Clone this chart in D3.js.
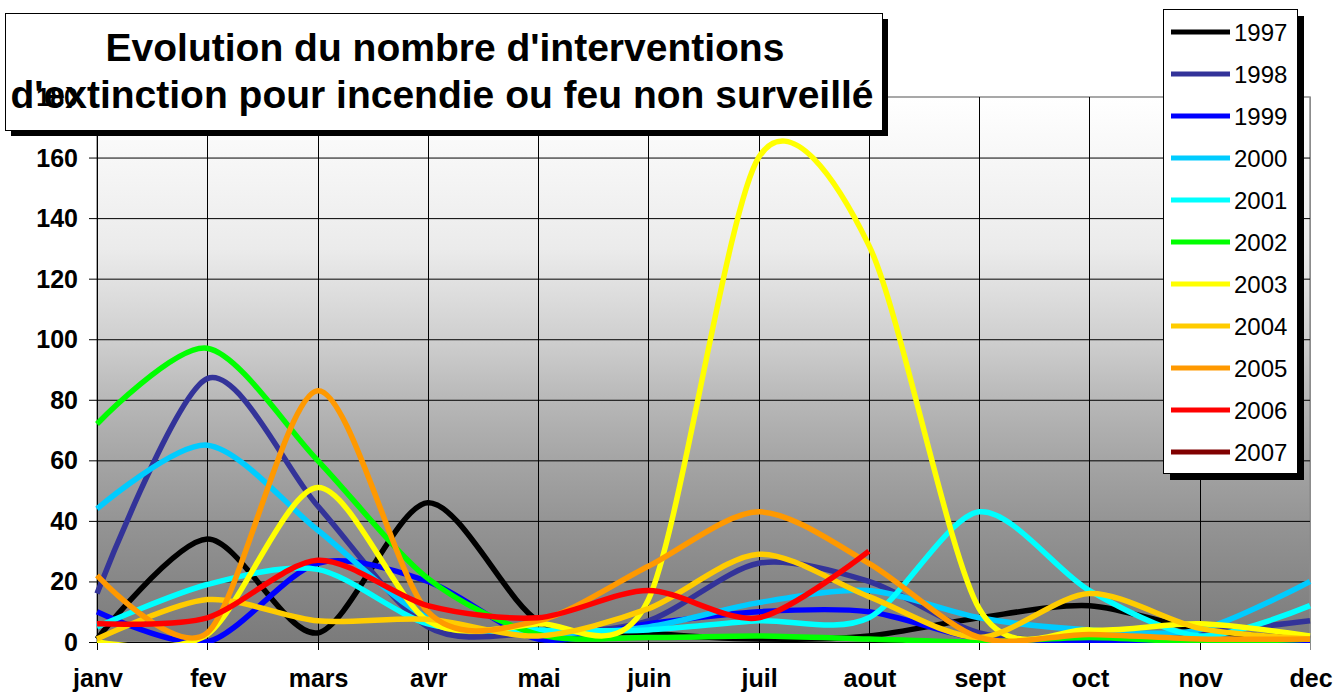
<!DOCTYPE html>
<html>
<head>
<meta charset="utf-8">
<script src="https://cdn.jsdelivr.net/npm/d3@7"></script>
<style>
  body { margin: 0; background: #fff; }
  text { font-family: "Liberation Sans", Arial, sans-serif; }
</style>
</head>
<body>
<div id="chart"></div>
<script>
const width = 1337;
const height = 693;

const months = ["janv", "fev", "mars", "avr", "mai", "juin", "juil", "aout", "sept", "oct", "nov", "dec"];
const yTicks = [0, 20, 40, 60, 80, 100, 120, 140, 160, 180];
const years = ["1997", "1998", "1999", "2000", "2001", "2002", "2003", "2004", "2005", "2006", "2007"];
const colors = ["#000000", "#333399", "#0000ff", "#00ccff", "#00ffff", "#00ff00", "#ffff00", "#ffcc00", "#ff9900", "#ff0000", "#800000"];

// one array per year, janv -> dec
const v1997 = [1, 34, 3, 46, 7, 3, 1, 2, 8, 12, 4, 1];
const v1998 = [16, 87, 45, 5, 3, 7, 26, 20, 3, 1, 3, 7];
const v1999 = [10, 0, 26, 20, 1, 6, 10, 10, 1, 0, 0, 0];
const v2000 = [44, 65, 37, 8, 3, 5, 13, 17, 8, 4, 4, 20];
const v2001 = [5, 19, 24, 6, 4, 4, 7, 8, 43, 17, 2, 12];
const v2002 = [72, 97, 60, 21, 2.5, 1.5, 2, 1, 0, 1.5, 0, 1];
const v2003 = [0, 2.5, 51, 7, 6, 14, 160, 131, 11, 4, 6, 2];
const v2004 = [1, 14, 7, 7.5, 2, 11, 29, 15, 1.5, 16, 4.5, 1];
const v2005 = [22, 3, 83, 10, 7, 25, 43, 26, 1.5, 2.5, 1, 1];
const v2006 = [6, 8, 27, 12, 8, 17, 8, 30];
const v2007 = [];

const allValues = [v1997, v1998, v1999, v2000, v2001, v2002, v2003, v2004, v2005, v2006, v2007];
const series = years.map((y, i) => ({ year: y, color: colors[i], values: allValues[i] }));

const plot = { left: 97, right: 1310, top: 97, bottom: 642 };

const svg = d3
  .select("#chart")
  .append("svg")
  .attr("width", width)
  .attr("height", height);

const xScale = d3.scalePoint().domain(months).range([plot.left, plot.right]);
const yScale = d3.scaleLinear().domain([0, 180]).range([plot.bottom, plot.top]);

// background gradient of the plot area
const grad = svg.append("defs")
  .append("linearGradient")
  .attr("id", "bg")
  .attr("x1", 0).attr("y1", 0).attr("x2", 0).attr("y2", 1);
[[0, "#ffffff"], [0.28, "#ebebeb"], [0.445, "#cfcfcf"], [0.555, "#b8b8b8"],
 [0.665, "#a5a5a5"], [0.774, "#959595"], [0.88, "#888888"], [1, "#7b7b7b"]]
  .forEach(s => grad.append("stop").attr("offset", s[0]).attr("stop-color", s[1]));

svg.append("rect")
  .attr("x", plot.left)
  .attr("y", plot.top)
  .attr("width", plot.right - plot.left)
  .attr("height", plot.bottom - plot.top)
  .attr("fill", "url(#bg)")
  .attr("stroke", "#8c8c8c")
  .attr("stroke-width", 1.5);

svg.append("clipPath")
  .attr("id", "clip")
  .append("rect")
  .attr("x", plot.left - 3)
  .attr("y", plot.top)
  .attr("width", plot.right - plot.left + 6)
  .attr("height", plot.bottom - plot.top + 1);

// horizontal grid + y ticks
svg.append("g")
  .selectAll("line")
  .data(yTicks.filter(d => d < 180))
  .enter()
  .append("line")
  .attr("x1", plot.left - 8)
  .attr("x2", plot.right)
  .attr("y1", d => yScale(d) + 0.5)
  .attr("y2", d => yScale(d) + 0.5)
  .attr("stroke", "#000")
  .attr("stroke-width", 1);

// vertical grid + x ticks
svg.append("g")
  .selectAll("line")
  .data(months)
  .enter()
  .append("line")
  .attr("x1", d => Math.round(xScale(d)) + 0.5)
  .attr("x2", d => Math.round(xScale(d)) + 0.5)
  .attr("y1", plot.top)
  .attr("y2", plot.bottom + 8)
  .attr("stroke", (d, i) => i == months.length - 1 ? "#8c8c8c" : "#000")
  .attr("stroke-width", 1);

svg.append("line")
  .attr("x1", plot.left)
  .attr("x2", plot.right)
  .attr("y1", plot.bottom + 0.5)
  .attr("y2", plot.bottom + 0.5)
  .attr("stroke", "#000");

// x labels
svg.append("g")
  .selectAll("text")
  .data(months)
  .enter()
  .append("text")
  .attr("x", d => xScale(d) + 1)
  .attr("y", 687)
  .attr("text-anchor", "middle")
  .style("font-size", "25px")
  .style("font-weight", "bold")
  .text(d => d);

// lines (smoothed like excel)
const line = d3.line()
  .x((d, i) => xScale(months[i]))
  .y(d => yScale(d))
  .curve(d3.curveCardinal.tension(0.15));

svg.append("g")
  .attr("clip-path", "url(#clip)")
  .selectAll("path")
  .data(series.filter(s => s.values.length > 0))
  .enter()
  .append("path")
  .attr("d", d => line(d.values))
  .attr("fill", "none")
  .attr("stroke", d => d.color)
  .attr("stroke-width", 5.5)
  .attr("stroke-linejoin", "round");

// title box
const title = svg.append("g");
title.append("rect")
  .attr("x", 11).attr("y", 19).attr("width", 877).attr("height", 117)
  .attr("fill", "#000");
title.append("rect")
  .attr("x", 5.5).attr("y", 13.5).attr("width", 877).attr("height", 117)
  .attr("fill", "#fff")
  .attr("stroke", "#000")
  .attr("stroke-width", 1);
title.append("text")
  .attr("x", 445).attr("y", 61)
  .attr("text-anchor", "middle")
  .style("font-size", "39px")
  .style("font-weight", "bold")
  .text("Evolution du nombre d'interventions");
title.append("text")
  .attr("x", 442).attr("y", 108)
  .attr("text-anchor", "middle")
  .style("font-size", "39px")
  .style("font-weight", "bold")
  .text("d'extinction pour incendie ou feu non surveillé");

// y labels (drawn over the title box, like the original)
svg.append("g")
  .selectAll("text")
  .data(yTicks)
  .enter()
  .append("text")
  .attr("x", 78)
  .attr("y", d => yScale(d))
  .attr("dy", "0.36em")
  .attr("text-anchor", "end")
  .style("font-size", "25px")
  .style("font-weight", "bold")
  .text(d => d);

// legend
const legend = svg.append("g").attr("id", "legend");
legend.append("rect")
  .attr("x", 1170).attr("y", 16).attr("width", 134).attr("height", 464)
  .attr("fill", "#000");
legend.append("rect")
  .attr("x", 1163.5).attr("y", 9.5).attr("width", 134).attr("height", 464)
  .attr("fill", "#fff")
  .attr("stroke", "#000")
  .attr("stroke-width", 1);

legend.selectAll("line")
  .data(series)
  .enter()
  .append("line")
  .attr("x1", 1171)
  .attr("x2", 1230)
  .attr("y1", (d, i) => 32 + i * 42)
  .attr("y2", (d, i) => 32 + i * 42)
  .attr("stroke", d => d.color)
  .attr("stroke-width", 5);

legend.selectAll("text")
  .data(series)
  .enter()
  .append("text")
  .attr("x", 1234)
  .attr("y", (d, i) => 32 + i * 42)
  .attr("dy", "0.36em")
  .style("font-size", "24px")
  .text(d => d.year);
</script>
</body>
</html>
